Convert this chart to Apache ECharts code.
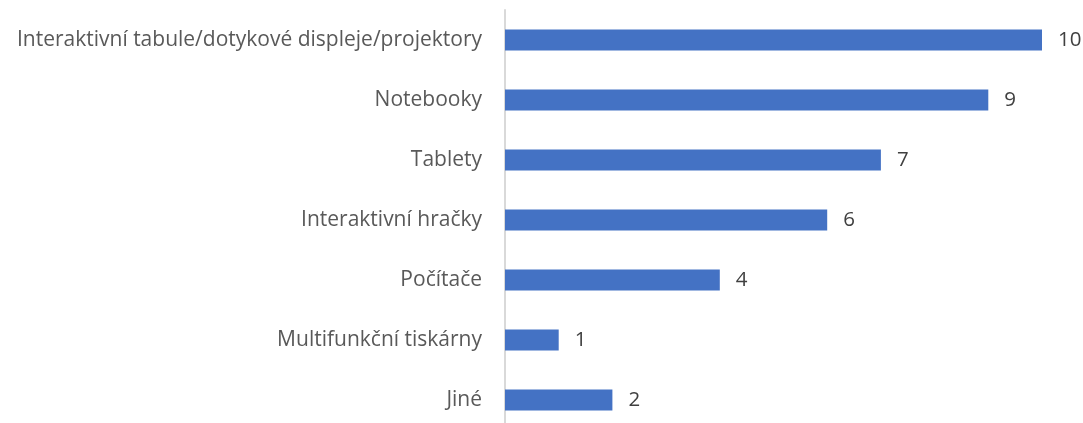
<!DOCTYPE html>
<html>
<head>
<meta charset="utf-8">
<script src="https://cdn.jsdelivr.net/npm/echarts@6/dist/echarts.min.js"></script>
<style>
  html, body { margin: 0; padding: 0; background: #fff; }
  #chart { width: 1083px; height: 423px; }
</style>
</head>
<body>
<div id="chart"></div>
<script>
var categories = [
  "Interaktivní tabule/dotykové displeje/projektory",
  "Notebooky",
  "Tablety",
  "Interaktivní hračky",
  "Počítače",
  "Multifunkční tiskárny",
  "Jiné"
];
var counts = [10, 9, 7, 6, 4, 1, 2];

var chart = echarts.init(document.getElementById("chart"));
chart.setOption({
  backgroundColor: "#ffffff",
  animation: false,
  grid: {
    left: 505,
    right: 41,
    top: 10,
    height: 420,
    outerBoundsMode: "none" // mřížka přesahuje dolní okraj
  },
  xAxis: {
    type: "value",
    min: 0,
    max: 10,
    show: false
  },
  yAxis: {
    type: "category",
    inverse: true,
    data: categories,
    axisTick: { show: false },
    axisLine: {
      lineStyle: { color: "#d9d9d9", width: 2 } // svislá osa
    },
    axisLabel: {
      margin: 23,
      color: "#595959",
      fontSize: 21,
      fontFamily: "Open Sans"
    }
  },
  series: [
    {
      type: "bar",
      data: counts,
      barWidth: 21,
      itemStyle: { color: "#4472C4" },
      label: {
        show: true,
        position: "right",
        distance: 16,
        color: "#404040",
        fontSize: 20.5,
        fontFamily: "Open Sans"
      }
    }
  ]
});
</script>
</body>
</html>
